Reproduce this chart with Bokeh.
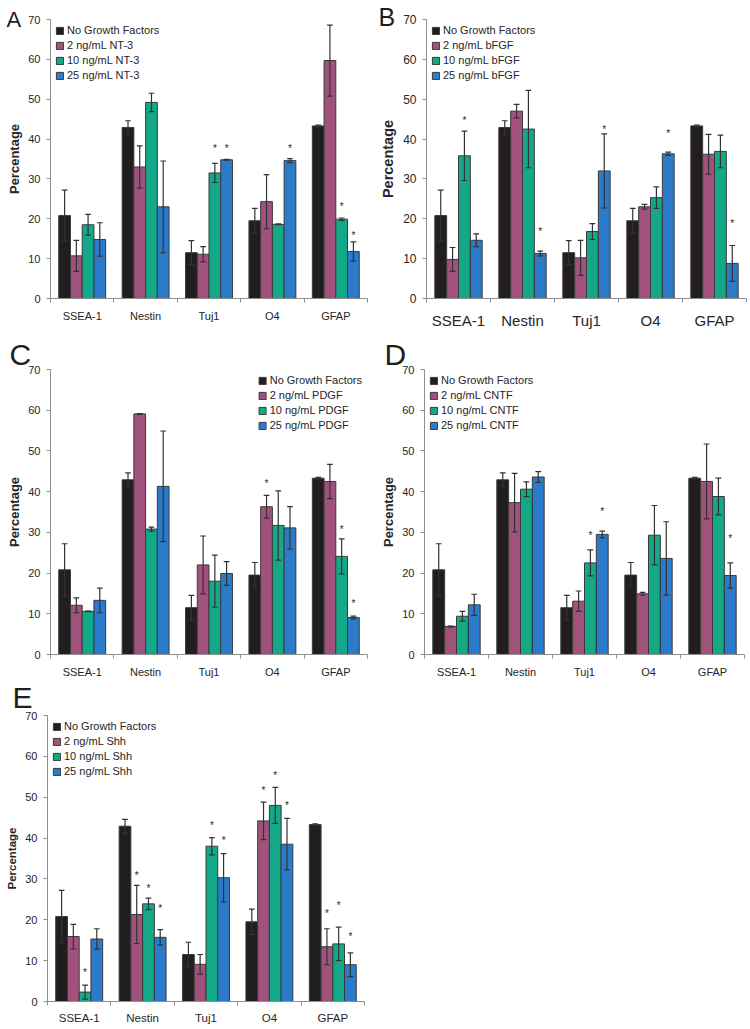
from bokeh.plotting import figure
from bokeh.models import (Range1d, FixedTicker, Title, ColumnDataSource)
from bokeh.transform import dodge
from bokeh.layouts import column, row
from bokeh.embed import file_html
from bokeh.resources import INLINE

# ---------------- data ----------------
categories = ["SSEA-1", "Nestin", "Tuj1", "O4", "GFAP"]
doses = ["2 ng/mL", "10 ng/mL", "25 ng/mL"]
control_label = "No Growth Factors"

ctrl_mean = [20.8, 42.9, 11.5, 19.5, 43.3]
ctrl_err = [6.4, 1.7, 3.0, 3.1, 0.2]

# Panel A: NT-3
nt3_mean = [[10.7, 33.0, 11.1, 24.3, 59.7],
            [18.5, 49.2, 31.5, 18.6, 19.9],
            [14.8, 23.0, 34.8, 34.6, 11.8]]
nt3_err = [[3.9, 5.3, 1.9, 6.8, 8.9],
           [2.6, 2.3, 2.4, 0.1, 0.3],
           [4.2, 11.5, 0.1, 0.5, 2.4]]
nt3_stars = [("Tuj1", 2, 38.1), ("Tuj1", 3, 38.1), ("O4", 3, 38.1),
             ("GFAP", 2, 23.7), ("GFAP", 3, 16.3)]

# Panel B: bFGF
bfgf_mean = [[9.8, 47.0, 10.2, 23.0, 36.2],
             [35.8, 42.5, 16.8, 25.3, 36.9],
             [14.6, 11.3, 32.0, 36.3, 8.8]]
bfgf_err = [[3.0, 1.7, 4.4, 0.6, 5.0],
            [6.2, 9.7, 2.0, 2.7, 4.1],
            [1.6, 0.6, 9.3, 0.4, 4.5]]
bfgf_stars = [("SSEA-1", 2, 45.2), ("Nestin", 3, 17.3), ("Tuj1", 3, 42.8),
              ("O4", 3, 41.8), ("GFAP", 3, 19.2)]

# Panel C: PDGF
pdgf_mean = [[12.1, 59.1, 22.0, 36.3, 42.5],
             [10.6, 30.8, 18.0, 31.7, 24.1],
             [13.3, 41.3, 19.9, 31.1, 9.1]]
pdgf_err = [[1.8, 0.05, 7.1, 2.8, 4.2],
            [0.05, 0.5, 6.4, 8.5, 4.3],
            [3.0, 13.6, 2.9, 5.2, 0.35]]
pdgf_stars = [("O4", 1, 42.4), ("GFAP", 2, 31.1), ("GFAP", 3, 12.9)]

# Panel D: CNTF
cntf_mean = [[6.9, 37.3, 13.1, 14.9, 42.5],
             [9.4, 40.6, 22.5, 29.3, 38.8],
             [12.2, 43.6, 29.5, 23.6, 19.4]]
cntf_err = [[0.1, 7.2, 2.5, 0.35, 9.2],
            [1.2, 1.8, 3.2, 7.3, 4.5],
            [2.6, 1.3, 0.8, 9.0, 3.1]]
cntf_stars = [("Tuj1", 2, 29.7), ("Tuj1", 3, 35.7), ("GFAP", 3, 29.0)]

# Panel E: Shh
shh_mean = [[15.9, 21.3, 9.1, 44.2, 13.4],
            [2.3, 23.9, 38.0, 48.0, 14.1],
            [15.3, 15.7, 30.3, 38.5, 9.0]]
shh_err = [[3.0, 7.1, 2.4, 4.6, 4.4],
           [1.7, 1.4, 2.1, 4.4, 4.1],
           [2.5, 1.9, 5.9, 6.3, 2.9]]
shh_stars = [("SSEA-1", 2, 7.6), ("Nestin", 1, 31.4), ("Nestin", 2, 28.1),
             ("Nestin", 3, 23.2), ("Tuj1", 2, 43.5), ("Tuj1", 3, 40.0),
             ("O4", 1, 52.2), ("O4", 2, 55.7), ("O4", 3, 48.4),
             ("GFAP", 1, 22.1), ("GFAP", 2, 24.1), ("GFAP", 3, 16.3)]

y_ticks = [0, 10, 20, 30, 40, 50, 60, 70]

# ---------------- style ----------------
FONT = "Liberation Sans"
colors = ["#221e1f", "#a0527c", "#13a888", "#2b7bca"]
offsets = [-0.2775, -0.0925, 0.0925, 0.2775]
BAR_W = 0.185
CAP = 0.045
AXIS_C = "#8f8f8f"
TEXT_C = "#262626"
ERR_C = "#333333"

# category slot centres on the x scale (one unit per category)
centres = [i + 0.5 for i in range(len(categories))]
bounds = list(range(len(categories) + 1))
cat_pos = dict(zip(categories, centres))


def panel(letter, factor, means, errs, stars, cfg):
    title = Title(text=letter, align="left", vertical_align=cfg["va"],
                  offset=cfg["lx"], standoff=cfg["ls"], text_font=FONT,
                  text_font_size=cfg["lf"], text_font_style="normal", text_color="#1e1e1e")
    p = figure(x_range=Range1d(0, len(categories)), y_range=Range1d(0, 70),
               width=cfg["w"], height=cfg["h"], title=title,
               min_border_left=cfg["ml"], min_border_right=cfg["mr"],
               min_border_top=cfg["mt"], min_border_bottom=cfg["mb"],
               output_backend="svg", toolbar_location=None)
    p.outline_line_color = None
    p.xgrid.visible = False
    p.ygrid.visible = False

    # y axis
    ya = p.yaxis[0]
    ya.ticker = FixedTicker(ticks=y_ticks)
    ya.axis_label = "Percentage"
    ya.axis_label_text_font = FONT
    ya.axis_label_text_font_style = "bold"
    ya.axis_label_text_font_size = cfg["yl"]
    ya.axis_label_text_color = TEXT_C
    ya.axis_label_standoff = cfg["als"]
    ya.major_label_text_font = FONT
    ya.major_label_text_font_size = cfg["yt"]
    ya.major_label_text_color = TEXT_C
    ya.major_label_standoff = 6
    ya.axis_line_color = AXIS_C
    ya.major_tick_line_color = AXIS_C
    ya.major_tick_in = 0
    ya.major_tick_out = 4
    ya.minor_tick_line_color = None

    # x axis: labels at category centres, ticks at boundaries
    xa = p.xaxis[0]
    xa.ticker = FixedTicker(ticks=centres, minor_ticks=bounds)
    xa.major_label_overrides = {c: n for c, n in zip(centres, categories)}
    xa.major_label_text_font = FONT
    xa.major_label_text_font_size = cfg["xt"]
    xa.major_label_text_color = TEXT_C
    xa.major_label_standoff = cfg["xs"]
    xa.axis_line_color = AXIS_C
    xa.major_tick_line_color = None
    xa.major_tick_in = 0
    xa.major_tick_out = 4
    xa.minor_tick_line_color = AXIS_C
    xa.minor_tick_in = 0
    xa.minor_tick_out = 4

    all_means = [ctrl_mean] + means
    all_errs = [ctrl_err] + errs
    labels = [control_label] + [f"{d} {factor}" for d in doses]

    for k in range(4):
        lo = [m - e for m, e in zip(all_means[k], all_errs[k])]
        hi = [m + e for m, e in zip(all_means[k], all_errs[k])]
        src = ColumnDataSource(dict(xc=centres, cat=categories, top=all_means[k], lo=lo, hi=hi))
        p.vbar(x=dodge("xc", offsets[k]), top="top", bottom=0,
               width=BAR_W, source=src, fill_color=colors[k],
               line_color="#3a3a3a", line_width=1, legend_label=labels[k])
        p.segment(x0=dodge("xc", offsets[k]), y0="lo",
                  x1=dodge("xc", offsets[k]), y1="hi",
                  source=src, line_color=ERR_C, line_width=1.2)
        for col in ("lo", "hi"):
            p.segment(x0=dodge("xc", offsets[k] - CAP), y0=col,
                      x1=dodge("xc", offsets[k] + CAP), y1=col,
                      source=src, line_color=ERR_C, line_width=1.2)
        st = [s for s in stars if s[1] == k]
        if st:
            ssrc = ColumnDataSource(dict(xc=[cat_pos[s[0]] for s in st],
                                         y=[s[2] for s in st],
                                         t=["*"] * len(st)))
            p.text(x=dodge("xc", offsets[k]), y="y", text="t",
                   source=ssrc, text_font_size="10px", text_align="center",
                   text_baseline="middle", text_color=TEXT_C, y_offset=2)

    lg = p.legend[0]
    lg.location = cfg["loc"]
    lg.margin = 5
    lg.padding = 0
    lg.spacing = 3
    lg.label_height = 11
    lg.glyph_height = 9
    lg.glyph_width = 9
    lg.label_standoff = 3
    lg.label_text_font = FONT
    lg.label_text_font_size = "11px"
    lg.label_text_color = TEXT_C
    lg.border_line_alpha = 0
    lg.background_fill_alpha = 0
    return p


# (the page is drawn from the top-left corner of the window)
cfgA = dict(w=375, h=340, ml=50, mr=8, mt=18, mb=37, yl="13px", yt="11px", xt="11px",
            xs=7, als=3, loc="top_left", lx=-44, ls=-24, lf="22px", va="bottom")
cfgB = dict(w=375, h=340, ml=51, mr=4, mt=19, mb=42, yl="14.5px", yt="12px", xt="15px",
            xs=9, als=4, loc="top_left", lx=-48, ls=-23, lf="25px", va="bottom")
cfgC = dict(w=375, h=340, ml=50, mr=8, mt=29, mb=26, yl="13px", yt="11px", xt="11px",
            xs=7, als=3, loc="top_right", lx=-41, ls=-7, lf="30px", va="top")
cfgD = dict(w=375, h=340, ml=49, mr=6, mt=29, mb=26, yl="13px", yt="11px", xt="11px",
            xs=7, als=3, loc="top_left", lx=-40, ls=-7, lf="30px", va="top")
cfgE = dict(w=375, h=348, ml=47, mr=11, mt=35, mb=27, yl="11.5px", yt="11px", xt="11.5px",
            xs=6, als=4, loc="top_left", lx=-35, ls=-1, lf="30px", va="top")

pA = panel("A", "NT-3", nt3_mean, nt3_err, nt3_stars, cfgA)
pB = panel("B", "bFGF", bfgf_mean, bfgf_err, bfgf_stars, cfgB)
pC = panel("C", "PDGF", pdgf_mean, pdgf_err, pdgf_stars, cfgC)
pD = panel("D", "CNTF", cntf_mean, cntf_err, cntf_stars, cfgD)
pE = panel("E", "Shh", shh_mean, shh_err, shh_stars, cfgE)

layout = column(row(pA, pB, spacing=0), row(pC, pD, spacing=0), row(pE, spacing=0), spacing=0)

open("out.html", "w").write(file_html(layout, INLINE))
